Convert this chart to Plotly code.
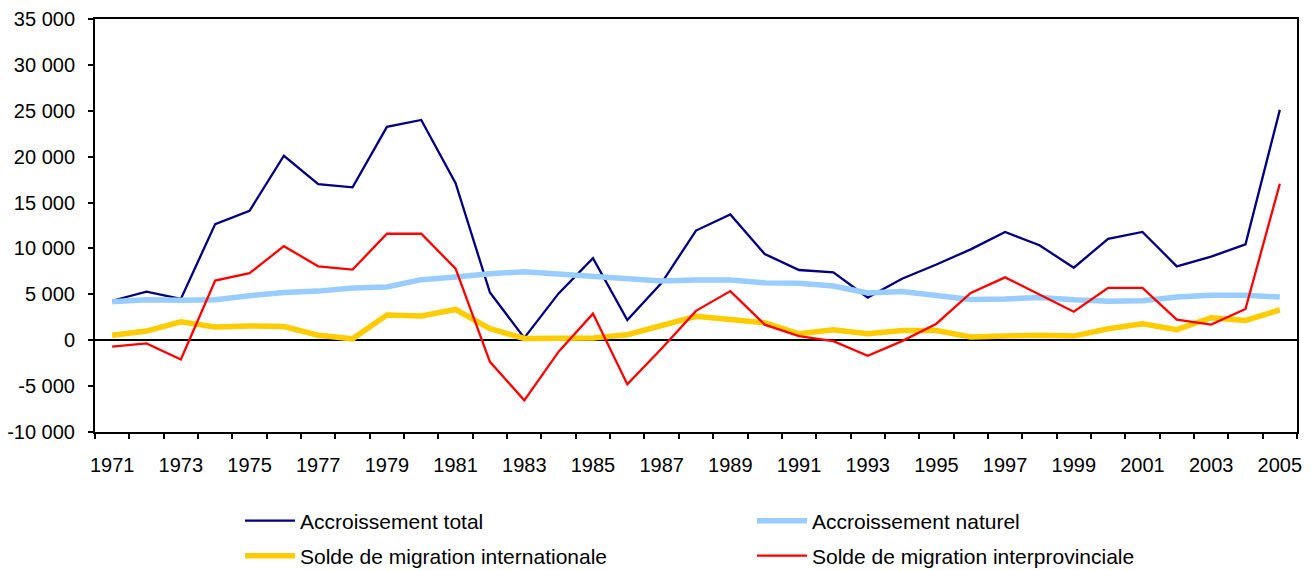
import plotly.graph_objects as go

years = list(range(1971, 2006))

total = [4300, 5300, 4500, 12650, 14100, 20100, 17000, 16650, 23250, 24000, 17100, 5200,
         250, 5100, 8950, 2200, 6250, 11950, 13700, 9400, 7650, 7400, 4650,
         6700, 8250, 9900, 11800, 10350, 7900, 11050, 11800, 8050, 9100, 10450, 25100]
naturel = [4200, 4400, 4350, 4400, 4850, 5200, 5350, 5700, 5800, 6600, 6900, 7250,
           7450, 7200, 6900, 6750, 6450, 6550, 6550, 6250, 6200, 5900, 5150,
           5300, 4950, 4450, 4500, 4650, 4400, 4250, 4300, 4700, 4900, 4900, 4700]
international = [550, 1000, 2000, 1450, 1550, 1500, 550, 150, 2750, 2650, 3350, 1250,
                 200, 250, 250, 600, 1650, 2600, 2250, 1900, 700, 1150, 700,
                 1050, 1050, 350, 450, 550, 450, 1250, 1800, 1150, 2450, 2150, 3300]
interprov = [-700, -350, -2100, 6500, 7300, 10250, 8050, 7700, 11600, 11600, 7800, -2350,
             -6550, -1250, 2900, -4800, -900, 3200, 5350, 1700, 450, -100, -1700,
             -100, 1800, 5150, 6850, 5000, 3100, 5700, 5700, 2250, 1700, 3400, 17050]

names = ["Accroissement total", "Accroissement naturel",
         "Solde de migration internationale", "Solde de migration interprovinciale"]
x_labels = [str(y) for y in range(1971, 2006, 2)]
y_vals = list(range(-10000, 35001, 5000))
y_text = ["-10 000", "-5 000", "0", "5 000", "10 000", "15 000", "20 000", "25 000", "30 000", "35 000"]

FONT = "Liberation Sans, Arial, sans-serif"

fig = go.Figure()
series = [
    (total, names[0], "#000080", 2.3, "legend"),
    (naturel, names[1], "#99CCFF", 5.5, "legend"),
    (international, names[2], "#FFCC00", 5.5, "legend2"),
    (interprov, names[3], "#FF0000", 2.3, "legend2"),
]
for vals, nm, col, w, lg in series:
    fig.add_trace(go.Scatter(x=years, y=vals, name=nm, mode="lines",
                             line=dict(color=col, width=w), legend=lg))

leg_common = dict(orientation="h", xref="container", yref="container",
                  xanchor="left", yanchor="middle", x=240 / 1313,
                  entrywidth=447, entrywidthmode="pixels", itemwidth=50,
                  font=dict(size=21, family=FONT), bgcolor="rgba(0,0,0,0)",
                  traceorder="normal")

fig.update_layout(
    width=1313, height=570,
    margin=dict(l=95, r=16, t=19, b=138, autoexpand=False),
    paper_bgcolor="white", plot_bgcolor="white",
    font=dict(family=FONT, size=20, color="black"),
    showlegend=True,
    legend=dict(leg_common, y=1 - 521 / 570),
    legend2=dict(leg_common, y=1 - 556 / 570),
    xaxis=dict(range=[1970.5, 2005.5], tickvals=[int(s) for s in x_labels], ticktext=x_labels,
               ticks="", showgrid=False, zeroline=False, showline=True, linecolor="black",
               linewidth=2, mirror=True, ticklabelstandoff=14,
               minor=dict(tick0=1970.5, dtick=1, ticks="outside", ticklen=5, tickwidth=2,
                          tickcolor="black", showgrid=False)),
    yaxis=dict(range=[-10000, 35000], tickvals=y_vals, ticktext=y_text, ticks="outside",
               ticklen=5, tickwidth=2, tickcolor="black", showgrid=False,
               zeroline=True, zerolinecolor="black", zerolinewidth=1.5,
               showline=True, linecolor="black", linewidth=2, mirror=True,
               ticklabelstandoff=9),
)

fig.write_html("out.html", config={"displayModeBar": False},
               post_script="document.body.style.margin='0';")
